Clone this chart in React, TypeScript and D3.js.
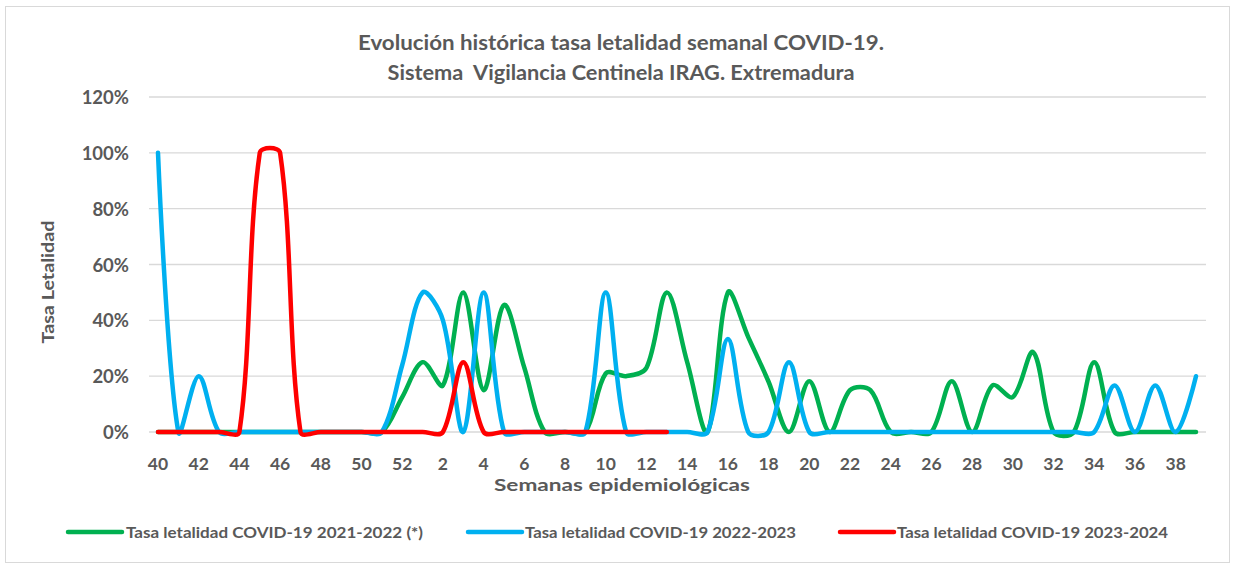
import React from 'react';
import * as d3 from 'd3';

// Epidemiological weeks (season 40 -> 39)
const weeks: string[] = [
  '40','41','42','43','44','45','46','47','48','49','50','51','52',
  '1','2','3','4','5','6','7','8','9','10','11','12','13','14','15','16','17','18','19','20',
  '21','22','23','24','25','26','27','28','29','30','31','32','33','34','35','36','37','38','39',
];

// Y-axis tick values (fractions)
const yTicks: number[] = [0, 0.2, 0.4, 0.6, 0.8, 1.0, 1.2];

// Series values in % (null = no data)
const green2122: (number | null)[] = [
  0, 0, 0, 0, 0, 0, 0, 0, 0, 0, 0, 0, 12.5,
  25, 16.7, 50, 15, 45.5, 23, 0, 0, 0, 21, 20, 23, 50, 25, 0, 50, 34, 18, 0, 18.2,
  0, 15, 15, 0, 0, 0, 18.2, 0, 16.7, 12.5, 28.6, 0, 0, 25, 0, 0, 0, 0, 0,
];
const blue2223: (number | null)[] = [
  100, 0, 20, 0, 0, 0, 0, 0, 0, 0, 0, 0, 24,
  50, 40, 0, 50, 0, 0, 0, 0, 0, 50, 0, 0, 0, 0, 0, 33.3, 0, 0, 25, 0,
  0, 0, 0, 0, 0, 0, 0, 0, 0, 0, 0, 0, 0, 0, 16.7, 0, 16.7, 0, 20,
];
const red2324: (number | null)[] = [
  0, 0, 0, 0, 0, 100, 100, 0, 0, 0, 0, 0, 0,
  0, 0, 25, 0, 0, 0, 0, 0, 0, 0, 0, 0, 0, null, null, null, null, null, null, null,
  null, null, null, null, null, null, null, null, null, null, null, null, null, null, null, null, null, null, null,
];

const seriesNames: string[] = [
  'Tasa letalidad COVID-19 2021-2022 (*)',
  'Tasa letalidad COVID-19 2022-2023',
  'Tasa letalidad COVID-19 2023-2024',
];
const seriesColors: string[] = ['#00B050', '#00B0F0', '#FF0000'];
const seriesData = [green2122, blue2223, red2324];

const titleLines: string[] = [
  'Evolución histórica tasa letalidad semanal COVID-19.',
  'Sistema  Vigilancia Centinela IRAG. Extremadura',
];

const FONT = "Lato, 'DejaVu Sans', sans-serif";
const TEXT = '#595959';
const GRID = '#d9d9d9';

// Spreadsheet-style smoothing: Bezier control points from neighbour chords,
// weighted by the lengths of adjacent segments (in screen space).
function smoothCurve(s: number) {
  return (context: any) => {
    let pts: [number, number][] = [];
    return {
      areaStart() {},
      areaEnd() {},
      lineStart() {
        pts = [];
      },
      point(px: number, py: number) {
        pts.push([+px, +py]);
      },
      lineEnd() {
        const n = pts.length;
        if (n === 0) return;
        context.moveTo(pts[0][0], pts[0][1]);
        if (n === 1) return;
        if (n === 2) {
          context.lineTo(pts[1][0], pts[1][1]);
          return;
        }
        const cin: [number, number][] = [];
        const cout: [number, number][] = [];
        for (let i = 0; i < n; i++) {
          if (i === 0 || i === n - 1) {
            cin[i] = pts[i];
            cout[i] = pts[i];
            continue;
          }
          const p0 = pts[i - 1];
          const p1 = pts[i];
          const p2 = pts[i + 1];
          const tx = p2[0] - p0[0];
          const ty = p2[1] - p0[1];
          const d0 = Math.hypot(p1[0] - p0[0], p1[1] - p0[1]);
          const d1 = Math.hypot(p2[0] - p1[0], p2[1] - p1[1]);
          const sum = d0 + d1 || 1;
          cin[i] = [p1[0] - (tx * s * d0) / sum, p1[1] - (ty * s * d0) / sum];
          cout[i] = [p1[0] + (tx * s * d1) / sum, p1[1] + (ty * s * d1) / sum];
        }
        for (let i = 0; i < n - 1; i++) {
          context.bezierCurveTo(cout[i][0], cout[i][1], cin[i + 1][0], cin[i + 1][1], pts[i + 1][0], pts[i + 1][1]);
        }
      },
    };
  };
}

export default function App() {
  const W = 1235;
  const H = 568;
  const x = d3.scalePoint<number>().domain(d3.range(weeks.length)).range([158, 1196]);
  const y = d3.scaleLinear().domain([0, 1.2]).range([432, 97]);
  const gridX0 = 149;
  const gridX1 = 1206;

  const line = d3
    .line<number | null>()
    .defined((d) => d !== null)
    .x((_, i) => x(i) as number)
    .y((d) => y((d as number) / 100))
    .curve(smoothCurve(1 / 3) as any);

  const legendItems = [
    { x0: 68, x1: 122, tx: 126, w: 297 },
    { x0: 468, x1: 522, tx: 525, w: 271 },
    { x0: 840, x1: 894, tx: 897, w: 271 },
  ];
  const legendY = 532;

  return (
    <div style={{ position: 'absolute', left: 0, top: 0, width: W, height: H, background: '#fff' }}>
      <svg width={W} height={H} style={{ display: 'block' }} fontFamily={FONT}>
        <rect x={0} y={0} width={W} height={H} fill="#fff" />
        <rect x={5.5} y={6.5} width={1224} height={556} fill="none" stroke={GRID} strokeWidth={1} />

        {titleLines.map((t, i) => (
          <text
            key={i}
            x={621}
            y={42 + i * 30}
            textAnchor="middle"
            dominantBaseline="central"
            fontSize={20}
            fontWeight={700}
            fill={TEXT}
            style={{ whiteSpace: 'pre' }}
            textLength={i === 0 ? 526 : 467}
            lengthAdjust="spacingAndGlyphs"
          >
            {t}
          </text>
        ))}

        {yTicks.map((t) => (
          <g key={t}>
            <line x1={gridX0} x2={gridX1} y1={y(t)} y2={y(t)} stroke={GRID} strokeWidth={1.3} />
            <text
              x={129}
              y={y(t)}
              textAnchor="end"
              dominantBaseline="central"
              fontSize={18.5}
              fontWeight={700}
              fill={TEXT}
            >
              {d3.format('.0%')(t)}
            </text>
          </g>
        ))}

        {weeks.map((w, i) =>
          i % 2 === 0 ? (
            <text
              key={w}
              x={x(i) as number}
              y={463}
              textAnchor="middle"
              dominantBaseline="central"
              fontSize={17.5}
              fontWeight={700}
              fill={TEXT}
            >
              {w}
            </text>
          ) : null
        )}

        <text
          x={622}
          y={484}
          textAnchor="middle"
          dominantBaseline="central"
          fontSize={17.5}
          fontWeight={700}
          fill={TEXT}
          textLength={256}
          lengthAdjust="spacingAndGlyphs"
        >
          Semanas epidemiológicas
        </text>

        <text
          transform="translate(47,282) rotate(-90)"
          textAnchor="middle"
          dominantBaseline="central"
          fontSize={17.5}
          fontWeight={700}
          fill={TEXT}
          textLength={123}
          lengthAdjust="spacingAndGlyphs"
        >
          Tasa Letalidad
        </text>

        {seriesData.map((s, k) => (
          <path
            key={k}
            d={line(s) || ''}
            fill="none"
            stroke={seriesColors[k]}
            strokeWidth={4.5}
            strokeLinecap="round"
            strokeLinejoin="round"
          />
        ))}

        {legendItems.map((li, k) => (
          <g key={k}>
            <line
              x1={li.x0}
              x2={li.x1}
              y1={legendY}
              y2={legendY}
              stroke={seriesColors[k]}
              strokeWidth={4.5}
              strokeLinecap="round"
            />
            <text
              x={li.tx}
              y={legendY}
              dominantBaseline="central"
              fontSize={15.5}
              fontWeight={700}
              fill={TEXT}
              textLength={li.w}
              lengthAdjust="spacingAndGlyphs"
            >
              {seriesNames[k]}
            </text>
          </g>
        ))}
      </svg>
    </div>
  );
}
